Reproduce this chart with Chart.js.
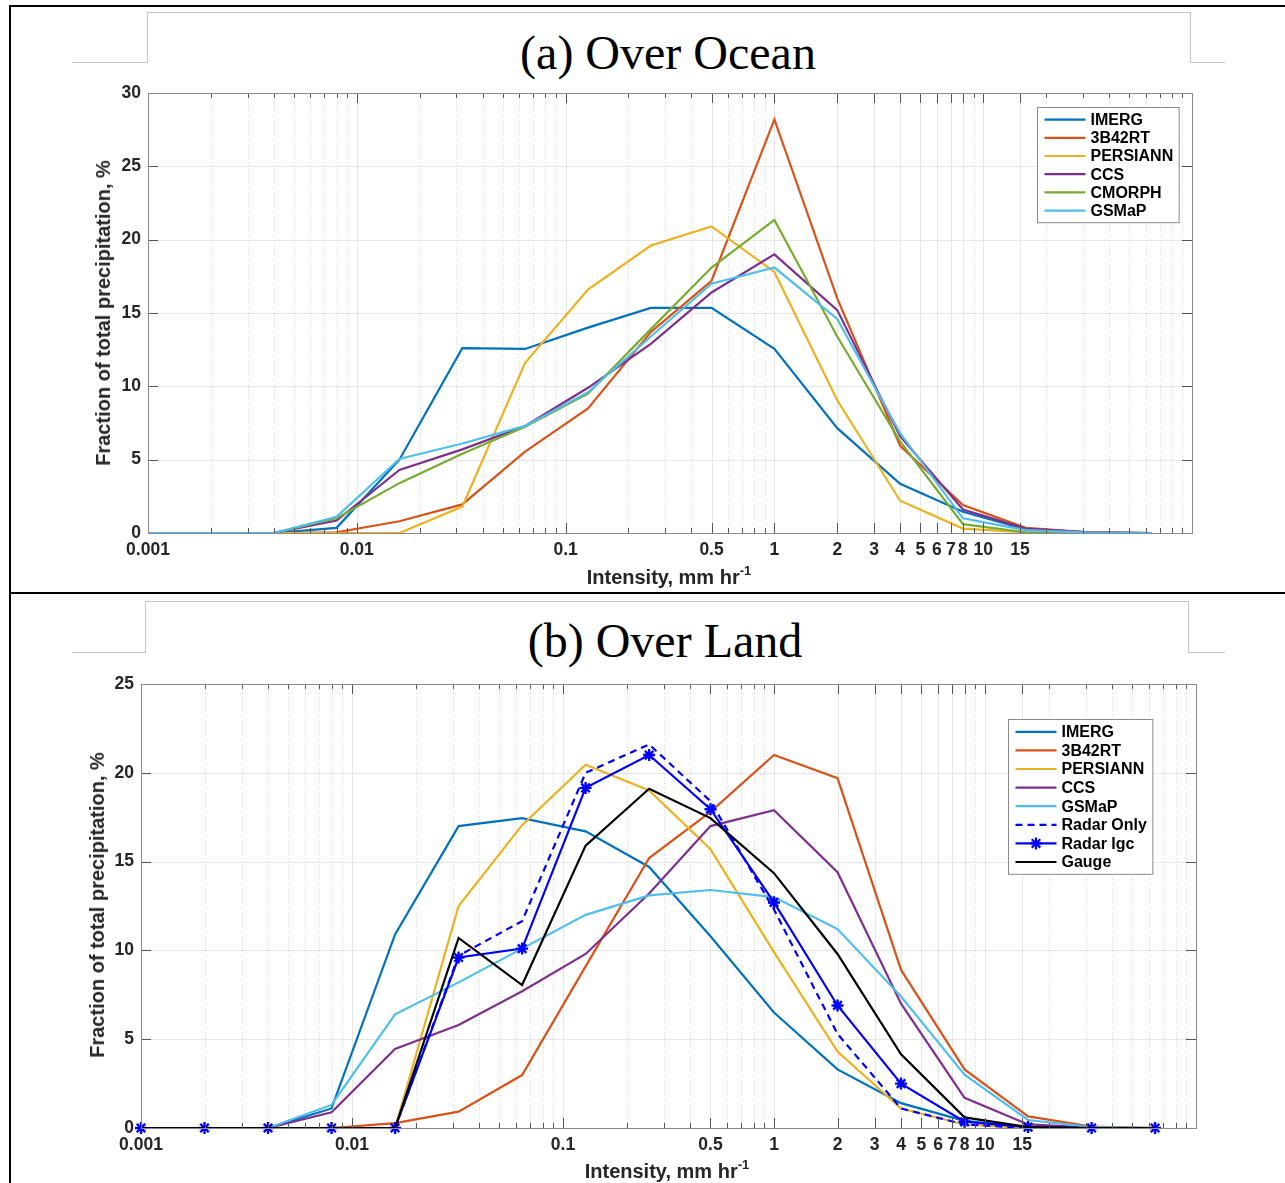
<!DOCTYPE html>
<html>
<head>
<meta charset="utf-8">
<script src="https://cdn.jsdelivr.net/npm/chart.js@4.4.1/dist/chart.umd.min.js"></script>
<style>
  html, body { margin: 0; padding: 0; background: #fff; }
  #page { position: relative; width: 1285px; height: 1183px; overflow: hidden; background: #fff; }
  canvas { position: absolute; }
  .rule { position: absolute; background: #000; }
  .gray { position: absolute; background: #c4c4c4; }
  .txt { position: absolute; white-space: nowrap; transform: translate(-50%, -50%); line-height: 1; }
  .title { font-family: "Liberation Serif", "Times New Roman", serif; font-size: 48px; color: #000; }
  .axis { font-family: "Liberation Sans", Arial, sans-serif; font-weight: bold; font-size: 20px; color: #262626; }
  .axis sup { font-size: 13px; vertical-align: 9px; line-height: 0; }
  .ytitle { transform: translate(-50%, -50%) rotate(-90deg); }
</style>
</head>
<body>
<div id="page">
  <div class="rule" style="left:9px; top:5px; width:1276px; height:2px;"></div>
  <div class="rule" style="left:9px; top:5px; width:2px; height:1178px;"></div>
  <div class="rule" style="left:9px; top:592px; width:1276px; height:2px;"></div>

  <div class="gray" style="left:72px; top:62px; width:76px; height:1px;"></div>
  <div class="gray" style="left:147px; top:12px; width:1px; height:51px;"></div>
  <div class="gray" style="left:147px; top:12px; width:1044px; height:1px;"></div>
  <div class="gray" style="left:1190px; top:12px; width:1px; height:51px;"></div>
  <div class="gray" style="left:1190px; top:62px; width:35px; height:1px;"></div>

  <div class="gray" style="left:72px; top:652px; width:74px; height:1px;"></div>
  <div class="gray" style="left:145px; top:601px; width:1px; height:52px;"></div>
  <div class="gray" style="left:145px; top:601px; width:1044px; height:1px;"></div>
  <div class="gray" style="left:1188px; top:601px; width:1px; height:52px;"></div>
  <div class="gray" style="left:1188px; top:652px; width:37px; height:1px;"></div>

  <div class="txt title" style="left:668px; top:53px;">(a) Over Ocean</div>
  <div class="txt title" style="left:665px; top:641px;">(b) Over Land</div>

  <canvas id="ocean" width="1270" height="525" style="left:12px; top:66px;"></canvas>
  <canvas id="land" width="1270" height="523" style="left:12px; top:660px;"></canvas>

  <div class="txt axis" style="left:669px; top:577px;">Intensity, mm hr<sup>-1</sup></div>
  <div class="txt axis" style="left:667px; top:1171px;">Intensity, mm hr<sup>-1</sup></div>
  <div class="txt axis ytitle" style="left:103px; top:313px;">Fraction of total precipitation, %</div>
  <div class="txt axis ytitle" style="left:97px; top:905px;">Fraction of total precipitation, %</div>
</div>

<script>
// bin centres, mm/hr
const intensityBins = [0.001, 0.002, 0.004, 0.008, 0.016, 0.032, 0.064, 0.128, 0.256, 0.5, 1, 2, 4, 8, 16, 32, 64]

const xTickValues = [0.001, 0.01, 0.1, 0.5, 1, 2, 3, 4, 5, 6, 7, 8, 10, 15]
const xTickLabels = ["0.001", "0.01", "0.1", "0.5", "1", "2", "3", "4", "5", "6", "7", "8", "10", "15"]
const xDecades = [0.001, 0.01, 0.1, 1, 10]

// (a) over ocean, % of total precipitation
const oceanIMERG = [0, 0, 0, 0.35, 5.0, 12.6, 12.55, 14.0, 15.35, 15.35, 12.55, 7.15, 3.35, 1.45, 0.25, 0.05, 0]
const ocean3B42RT = [0, 0, 0, 0.05, 0.8, 1.95, 5.55, 8.5, 13.7, 17.2, 28.2, 16.0, 5.95, 1.9, 0.35, 0.05, 0]
const oceanPERSIANN = [0, 0, 0, 0, 0, 1.8, 11.6, 16.6, 19.6, 20.9, 17.8, 9.05, 2.2, 0.3, 0.05, 0, 0]
const oceanCCS = [0, 0, 0, 0.85, 4.3, 5.7, 7.3, 9.9, 12.9, 16.4, 19.0, 15.2, 6.6, 1.6, 0.3, 0.05, 0]
const oceanCMORPH = [0, 0, 0, 1.0, 3.4, 5.4, 7.25, 9.5, 13.9, 18.1, 21.35, 13.4, 6.25, 0.6, 0.05, 0, 0]
const oceanGSMaP = [0, 0, 0, 1.1, 5.05, 6.1, 7.3, 9.6, 13.4, 17.0, 18.1, 14.6, 6.8, 1.0, 0.2, 0.02, 0]

// (b) over land
const landIMERG = [0, 0, 0, 1.1, 10.9, 17.0, 17.45, 16.7, 14.7, 10.8, 6.5, 3.3, 1.4, 0.4, 0.05, 0, 0]
const land3B42RT = [0, 0, 0, 0, 0.27, 0.92, 2.98, 9.1, 15.2, 17.8, 21.0, 19.7, 8.9, 3.3, 0.65, 0.08, 0]
const landPERSIANN = [0, 0, 0, 0, 0, 12.5, 17.05, 20.45, 19.0, 15.7, 9.9, 4.3, 1.1, 0.2, 0, 0, 0]
const landCCS = [0, 0, 0, 0.88, 4.45, 5.8, 7.7, 9.8, 13.2, 17.0, 17.9, 14.4, 7.0, 1.7, 0.2, 0.02, 0]
const landGSMaP = [0, 0, 0, 1.3, 6.4, 8.2, 10.1, 12.0, 13.1, 13.4, 13.0, 11.2, 7.4, 3.0, 0.45, 0.05, 0]
const landRadarOnly = [0, 0, 0, 0, 0, 9.7, 11.65, 20.0, 21.6, 18.4, 12.3, 5.3, 1.1, 0.2, 0, 0, 0]
const landRadarIgc = [0, 0, 0, 0, 0, 9.6, 10.1, 19.15, 21.0, 17.95, 12.7, 6.9, 2.5, 0.35, 0.05, 0, 0]
const landGauge = [0, 0, 0, 0, 0, 10.7, 8.05, 15.9, 19.1, 17.45, 14.35, 9.8, 4.15, 0.6, 0.05, 0, 0]

const FONT = '"Liberation Sans", Arial, sans-serif'
const TEXT = "#262626"

function series(label, values, color, extra = {}) {
  return {
    label,
    data: values.map((v, i) => ({ x: intensityBins[i], y: v })),
    borderColor: color,
    backgroundColor: color,
    borderWidth: 2.2,
    pointRadius: 0,
    tension: 0,
    fill: false,
    ...extra,
  }
}

function drawStar(ctx, x, y, r) {
  ctx.beginPath()
  for (let k = 0; k < 4; k++) {
    const a = (k * Math.PI) / 4
    ctx.moveTo(x - r * Math.cos(a), y - r * Math.sin(a))
    ctx.lineTo(x + r * Math.cos(a), y + r * Math.sin(a))
  }
  ctx.stroke()
}

// grid, box and inward ticks the way the original axes look
const axesFrame = {
  id: "axesFrame",
  beforeDatasetsDraw(chart) {
    const { ctx, chartArea: a, scales } = chart
    const x = scales.x
    const y = scales.y
    ctx.save()
    ctx.lineWidth = 1

    // minor vertical grid, dotted
    ctx.strokeStyle = "#d8d8d8"
    ctx.setLineDash([1, 2])
    xDecades.forEach((d) => {
      for (let m = 2; m <= 9; m++) {
        const v = d * m
        if (xTickValues.includes(v)) continue
        const px = Math.round(x.getPixelForValue(v)) + 0.5
        ctx.beginPath(); ctx.moveTo(px, a.top); ctx.lineTo(px, a.bottom); ctx.stroke()
      }
    })
    ctx.setLineDash([])

    // major vertical grid
    ctx.strokeStyle = "#e6e6e6"
    xTickValues.forEach((v) => {
      const px = Math.round(x.getPixelForValue(v)) + 0.5
      ctx.beginPath(); ctx.moveTo(px, a.top); ctx.lineTo(px, a.bottom); ctx.stroke()
    })
    // horizontal grid
    y.ticks.forEach((t) => {
      const py = Math.round(y.getPixelForValue(t.value)) + 0.5
      ctx.beginPath(); ctx.moveTo(a.left, py); ctx.lineTo(a.right, py); ctx.stroke()
    })
    ctx.restore()
  },
  afterDatasetsDraw(chart) {
    const { ctx, chartArea: a, scales } = chart
    const x = scales.x
    const y = scales.y
    ctx.save()
    ctx.lineWidth = 1
    ctx.strokeStyle = "#555"

    const vTick = (v, len) => {
      const px = Math.round(x.getPixelForValue(v)) + 0.5
      ctx.beginPath()
      ctx.moveTo(px, a.bottom); ctx.lineTo(px, a.bottom - len)
      ctx.moveTo(px, a.top); ctx.lineTo(px, a.top + len)
      ctx.stroke()
    }
    xDecades.forEach((d) => {
      for (let m = 1; m <= 9; m++) {
        if (!xTickValues.includes(d * m)) vTick(d * m, 5)
      }
    })
    xTickValues.forEach((v) => vTick(v, 10))
    y.ticks.forEach((t) => {
      const py = Math.round(y.getPixelForValue(t.value)) + 0.5
      ctx.beginPath()
      ctx.moveTo(a.left, py); ctx.lineTo(a.left + 10, py)
      ctx.moveTo(a.right, py); ctx.lineTo(a.right - 10, py)
      ctx.stroke()
    })

    ctx.strokeStyle = "#8a8a8a"
    ctx.strokeRect(Math.round(a.left) + 0.5, Math.round(a.top) + 0.5, Math.round(a.width), Math.round(a.height))

    // legend box
    const opts = chart.options.plugins.boxLegend
    const datasets = chart.data.datasets
    ctx.font = `bold 16px ${FONT}`
    const textW = Math.max(...datasets.map((d) => ctx.measureText(d.label).width))
    const w = 53 + textW + 6
    const h = datasets.length * opts.step + 6
    const left = Math.round(a.right - opts.right - w) + 0.5
    const top = Math.round(a.top + opts.top) + 0.5
    ctx.fillStyle = "#fff"
    ctx.fillRect(left, top, w, h)
    ctx.strokeStyle = "#8a8a8a"
    ctx.strokeRect(left, top, w, h)

    ctx.textBaseline = "middle"
    datasets.forEach((d, i) => {
      const cy = top + 3 + opts.step * (i + 0.5)
      ctx.strokeStyle = d.borderColor
      ctx.lineWidth = d.borderWidth
      ctx.setLineDash(d.borderDash || [])
      ctx.beginPath(); ctx.moveTo(left + 7, cy); ctx.lineTo(left + 48, cy); ctx.stroke()
      ctx.setLineDash([])
      if (d.pointRadius > 0) {
        ctx.lineWidth = 2.2
        drawStar(ctx, left + 27.5, cy, 6)
      }
      ctx.fillStyle = "#000"
      ctx.fillText(d.label, left + 53, cy + 1)
    })
    ctx.restore()
  },
}

function makeChart(id, datasets, yMax, yWidth, xHeight, padding, legend) {
  // later datasets drawn on top, as in the original
  datasets.forEach((d, i) => { d.order = datasets.length - i })

  return new Chart(document.getElementById(id), {
    type: "line",
    data: { datasets },
    options: {
      responsive: false,
      animation: false,
      events: [],
      layout: { padding },
      scales: {
        x: {
          type: "logarithmic",
          min: 0.001,
          max: 100,
          grid: { display: false, drawTicks: false },
          border: { display: false },
          afterBuildTicks: (scale) => {
            scale.ticks = xTickValues.map((v) => ({ value: v }))
          },
          afterFit: (scale) => { scale.height = xHeight },
          ticks: {
            autoSkip: false,
            maxRotation: 0,
            minRotation: 0,
            padding: 7,
            color: TEXT,
            font: { family: FONT, size: 17.5, weight: "bold" },
            callback: (value) => xTickLabels[xTickValues.indexOf(value)] ?? "",
          },
        },
        y: {
          type: "linear",
          min: 0,
          max: yMax,
          grid: { display: false, drawTicks: false },
          border: { display: false },
          afterFit: (scale) => { scale.width = yWidth },
          ticks: {
            stepSize: 5,
            padding: 7,
            color: TEXT,
            font: { family: FONT, size: 17.5, weight: "bold" },
          },
        },
      },
      plugins: {
        legend: { display: false },
        tooltip: { enabled: false },
        boxLegend: legend,
      },
    },
    plugins: [axesFrame],
  })
}

makeChart(
  "ocean",
  [
    series("IMERG", oceanIMERG, "#0072BD"),
    series("3B42RT", ocean3B42RT, "#D95319"),
    series("PERSIANN", oceanPERSIANN, "#EDB120"),
    series("CCS", oceanCCS, "#7E2F8E"),
    series("CMORPH", oceanCMORPH, "#77AC30"),
    series("GSMaP", oceanGSMaP, "#4DBEEE"),
  ],
  30, 136, 58,
  { top: 27, right: 90, bottom: 0, left: 0 },
  { right: 13, top: 14, step: 18.2 }
)

makeChart(
  "land",
  [
    series("IMERG", landIMERG, "#0072BD"),
    series("3B42RT", land3B42RT, "#D95319"),
    series("PERSIANN", landPERSIANN, "#EDB120"),
    series("CCS", landCCS, "#7E2F8E"),
    series("GSMaP", landGSMaP, "#4DBEEE"),
    series("Radar Only", landRadarOnly, "#0000FF", { borderDash: [7, 5] }),
    series("Radar Igc", landRadarIgc, "#0000FF", {
      pointRadius: 6,
      pointStyle: "star",
      pointBorderWidth: 2.4,
      pointBorderColor: "#0000FF",
      clip: false,
    }),
    series("Gauge", landGauge, "#000000"),
  ],
  25, 129, 55,
  { top: 24, right: 86, bottom: 0, left: 0 },
  { right: 44, top: 35, step: 18.6 }
)
</script>
</body>
</html>
